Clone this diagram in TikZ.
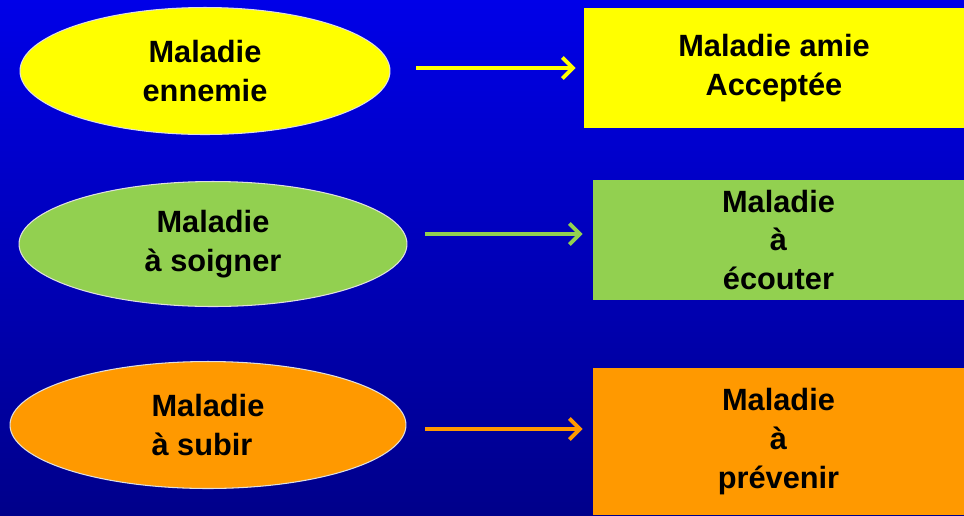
\documentclass[tikz,border=0pt]{standalone}
\usepackage{fontspec}
\setmainfont{Liberation Sans}
\usetikzlibrary{shapes.geometric,arrows.meta}

\definecolor{bgtop}{RGB}{0,0,232}
\definecolor{bgbot}{RGB}{0,0,138}
\definecolor{jaune}{RGB}{255,255,0}
\definecolor{vert}{RGB}{146,208,80}
\definecolor{orange}{RGB}{255,153,0}

\begin{document}
\begin{tikzpicture}[x=0.02cm, y=-0.02cm]
	\tikzstyle{oval} = [ellipse, draw=white!75!gray, line width=0.6pt, inner sep=0pt, font=\fontsize{17.5}{22}\selectfont\bfseries];
	\tikzstyle{box} = [rectangle, draw=none, inner sep=0pt, align=center, font=\fontsize{17.5}{22}\selectfont\bfseries];
	\tikzstyle{arr} = [line width=2.2pt, -{Straight Barb[length=6pt,width=12pt,line width=2.2pt]}];

	\useasboundingbox (0,0) rectangle (964,515);
	\shade[top color=bgtop, bottom color=bgbot] (0,0) rectangle (964,515);

	\node[oval, fill=jaune, align=center, minimum width=7.4cm, minimum height=2.54cm] at (205, 71) (e1) {Maladie\\ennemie};
		\node[box, fill=jaune, minimum width=7.6cm, minimum height=2.4cm] at (774, 68) (r1) {Maladie amie\\Acceptée};

	\node[oval, fill=vert, align=center, minimum width=7.76cm, minimum height=2.5cm] at (213, 244) (e2) {Maladie\\à soigner};
		\node[box, fill=vert, minimum width=7.42cm, minimum height=2.4cm] at (778.5, 240) (r2) {Maladie\\à\\écouter};

	\node[oval, fill=orange, align=left, minimum width=7.92cm, minimum height=2.54cm] at (208, 425) (e3) {Maladie\\à subir};
		\node[box, fill=orange, minimum width=7.42cm, minimum height=2.94cm] at (778.5, 441.5) (r3) {Maladie\\à\\prévenir};

	\draw[arr, jaune, shorten <=0.52cm, shorten >=0.16cm] ([yshift=0.06cm]e1.east) -- ([yshift=0.06cm]e1.east -| r1.west);
	\draw[arr, vert, shorten <=0.36cm, shorten >=0.2cm] ([yshift=0.2cm]e2.east) -- ([yshift=0.2cm]e2.east -| r2.west);
	\draw[arr, orange, shorten <=0.38cm, shorten >=0.2cm] ([yshift=-0.08cm]e3.east) -- ([yshift=-0.08cm]e3.east -| r3.west);

\end{tikzpicture}
\end{document}
